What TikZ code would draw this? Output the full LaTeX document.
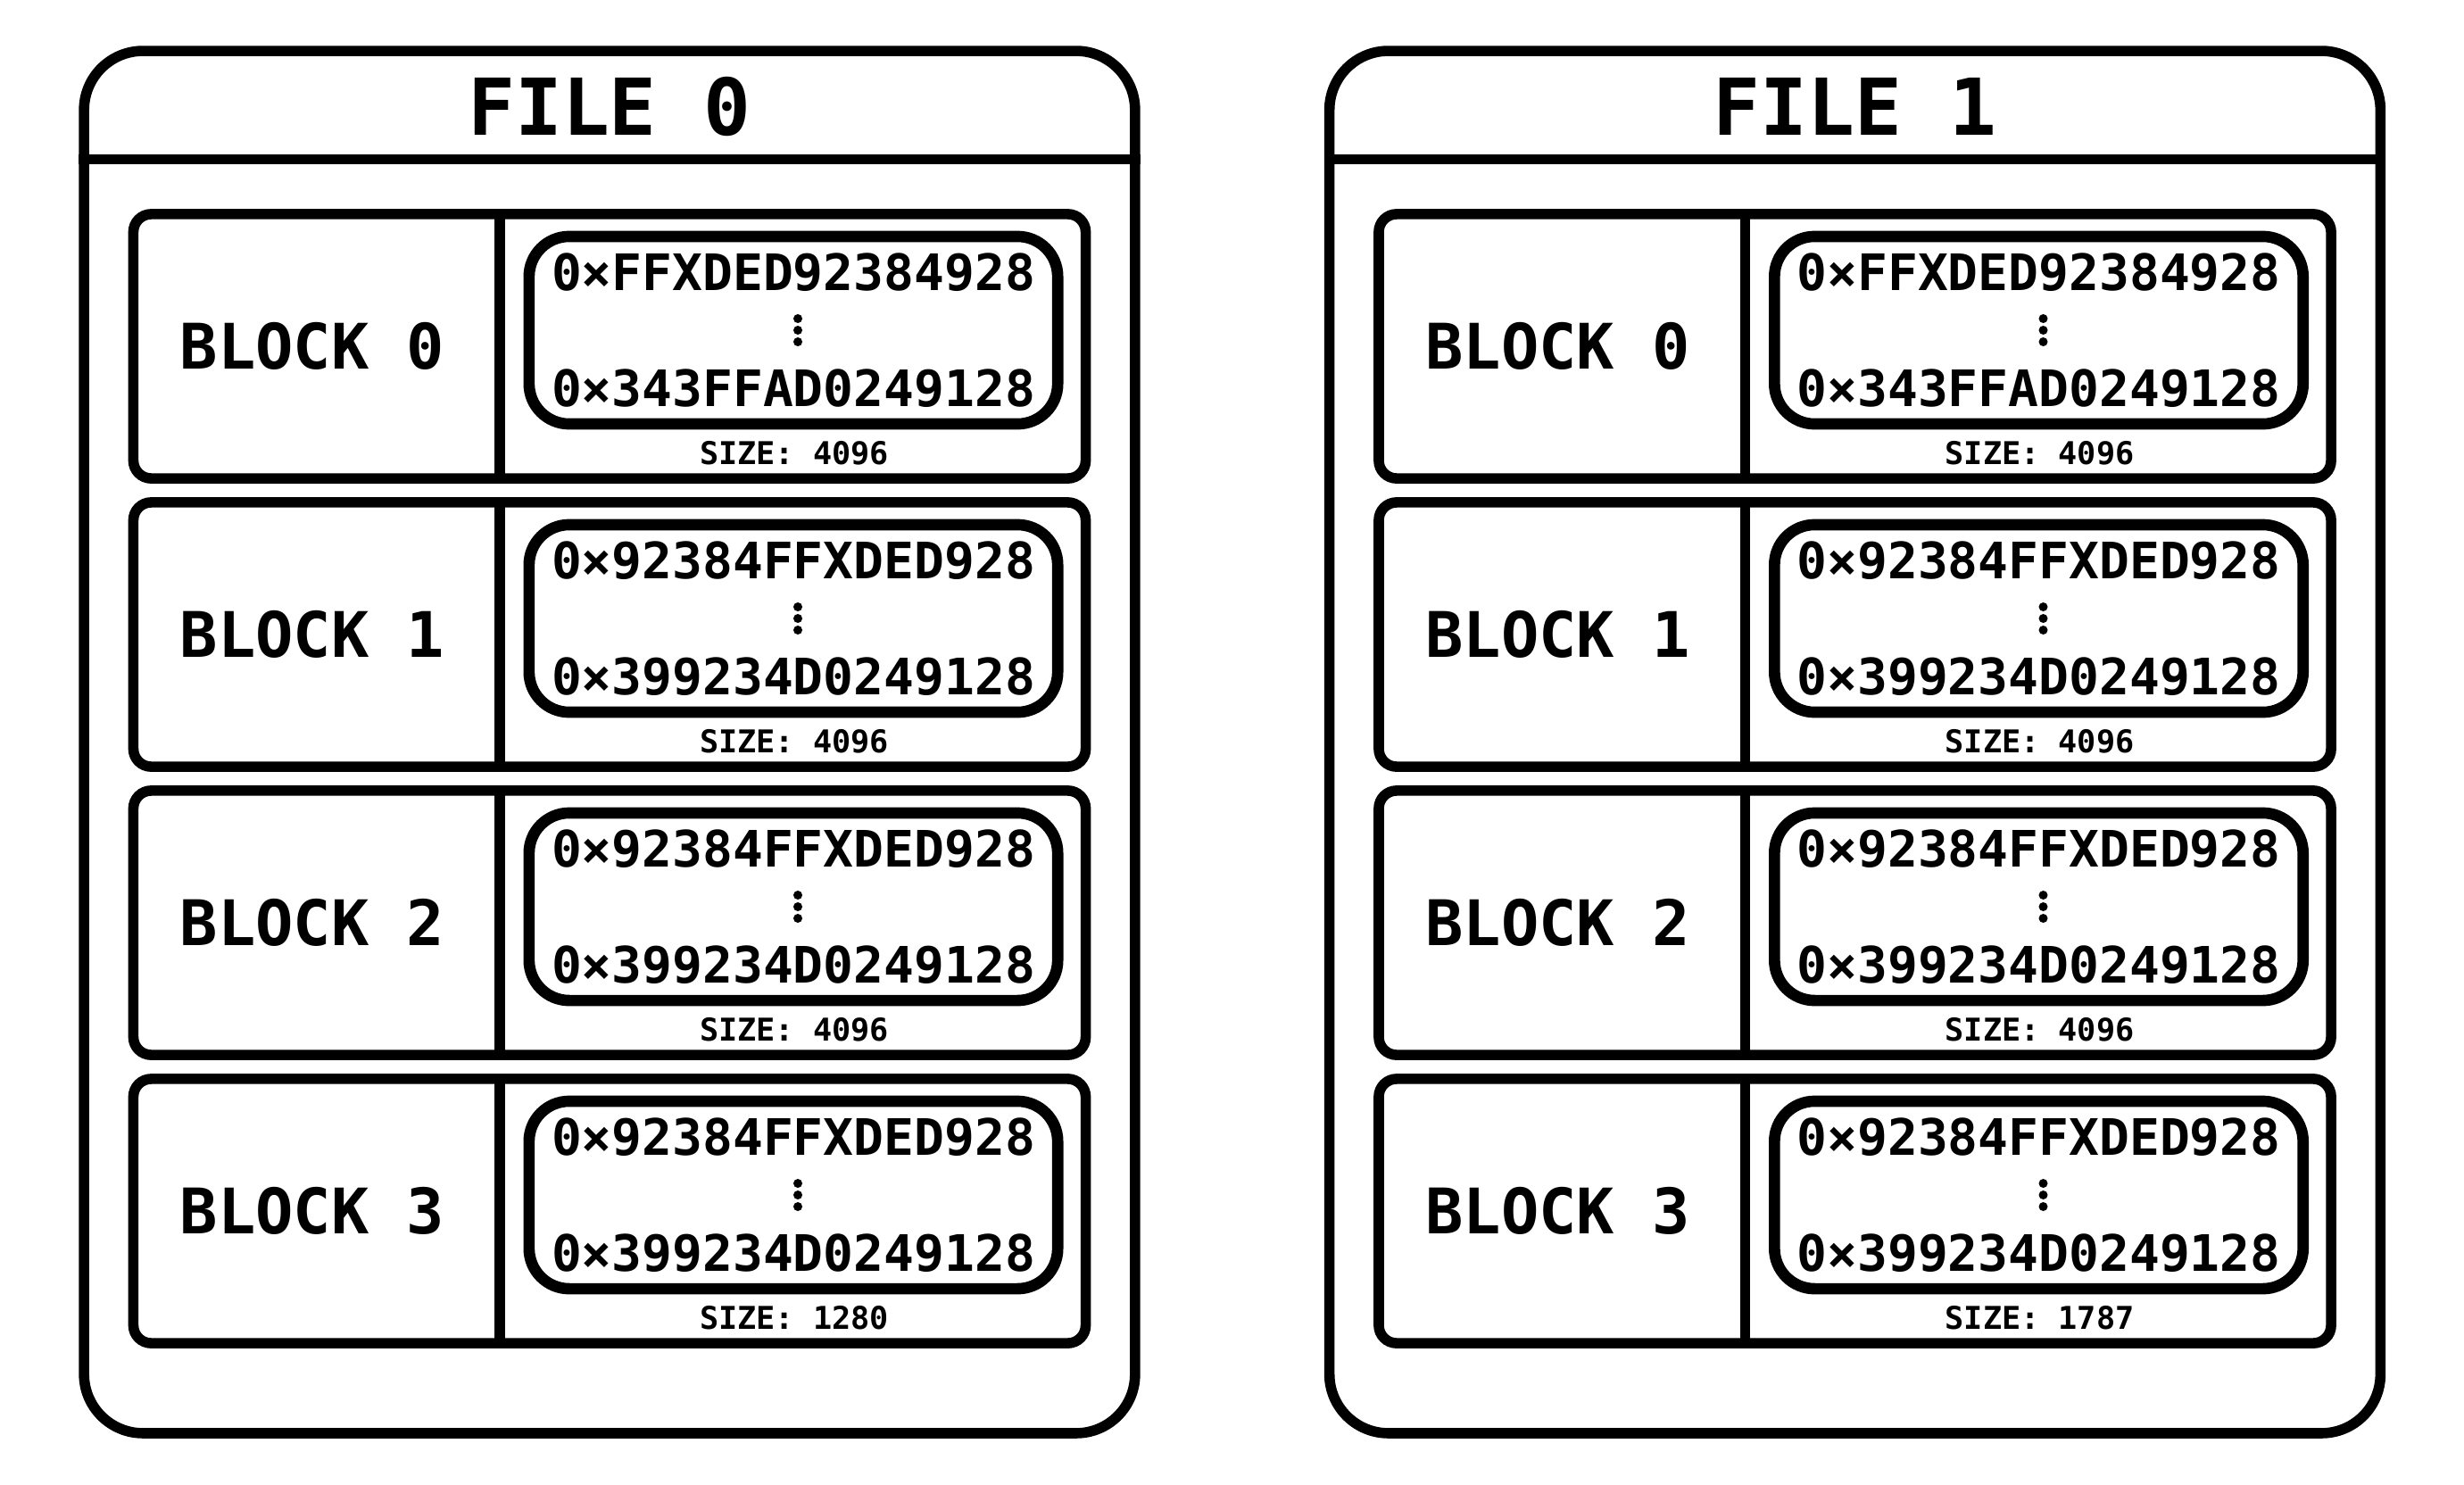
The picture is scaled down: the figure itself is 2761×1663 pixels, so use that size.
\documentclass[tikz,border=0pt]{standalone}
\usepackage{fontspec}
\newfontfamily\monofont{DejaVu Sans Mono}
\usetikzlibrary{positioning}

\tikzset{
  filebox/.style={draw, line width=3.3pt, rounded corners=0.66cm, minimum width=11.77cm, minimum height=15.48cm},
  blockbox/.style={draw, line width=3.3pt, rounded corners=0.2cm, minimum width=10.665cm, minimum height=2.96cm},
  addrbox/.style={draw, line width=3.6pt, rounded corners=0.45cm, minimum width=5.92cm, minimum height=2.10cm,
    align=center, font=\monofont\bfseries\fontsize{16}{18.5}\selectfont},
  titlelabel/.style={font=\monofont\bfseries\fontsize{25}{30}\selectfont},
  blocklabel/.style={font=\monofont\bfseries\fontsize{20}{24}\selectfont},
  sizelabel/.style={font=\monofont\bfseries\fontsize{10}{12}\selectfont},
  divider/.style={line width=3.3pt}
}

\begin{document}
\begin{tikzpicture}[x=0.01cm, y=-0.01cm]

     \useasboundingbox (0,0) rectangle (2761,1663);

     % File 0
     \node[filebox] (file0) at (683,831.5) {};
     \node[titlelabel] (title0) at (683,119.5) {FILE 0};
     \coordinate (h0) at (0,178.5);
     \draw[divider] (file0.west |- h0) -- (file0.east |- h0);
     \coordinate (d0) at (560,0);

     % Bloques del file 0
     \node[blockbox] (b00) at (683,388) {};
     \node[blocklabel] (l00) at (350,388) {BLOCK 0};
     \draw[divider] (b00.north -| d0) -- (b00.south -| d0);
     \node[addrbox] (a00) at (889,370) {0×FFXDED92384928\\\mbox{}\\0×343FFAD0249128};
     \node[sizelabel] (s00) at (890,507.5) {SIZE: 4096};

     \node[blockbox] (b01) at (683,711) {};
     \node[blocklabel] (l01) at (350,711) {BLOCK 1};
     \draw[divider] (b01.north -| d0) -- (b01.south -| d0);
     \node[addrbox] (a01) at (889,693) {0×92384FFXDED928\\\mbox{}\\0×399234D0249128};
     \node[sizelabel] (s01) at (890,830.5) {SIZE: 4096};

     \node[blockbox] (b02) at (683,1034) {};
     \node[blocklabel] (l02) at (350,1034) {BLOCK 2};
     \draw[divider] (b02.north -| d0) -- (b02.south -| d0);
     \node[addrbox] (a02) at (889,1016) {0×92384FFXDED928\\\mbox{}\\0×399234D0249128};
     \node[sizelabel] (s02) at (890,1153.5) {SIZE: 4096};

     \node[blockbox] (b03) at (683,1357) {};
     \node[blocklabel] (l03) at (350,1357) {BLOCK 3};
     \draw[divider] (b03.north -| d0) -- (b03.south -| d0);
     \node[addrbox] (a03) at (889,1339) {0×92384FFXDED928\\\mbox{}\\0×399234D0249128};
     \node[sizelabel] (s03) at (890,1476.5) {SIZE: 1280};

     % File 1
     \node[filebox] (file1) at (2078.5,831.5) {};
     \node[titlelabel] (title1) at (2078.5,119.5) {FILE 1};
     \coordinate (h1) at (0,178.5);
     \draw[divider] (file1.west |- h1) -- (file1.east |- h1);
     \coordinate (d1) at (1955.5,0);

     % Bloques del file 1
     \node[blockbox] (b10) at (2078.5,388) {};
     \node[blocklabel] (l10) at (1745.5,388) {BLOCK 0};
     \draw[divider] (b10.north -| d1) -- (b10.south -| d1);
     \node[addrbox] (a10) at (2284.5,370) {0×FFXDED92384928\\\mbox{}\\0×343FFAD0249128};
     \node[sizelabel] (s10) at (2285.5,507.5) {SIZE: 4096};

     \node[blockbox] (b11) at (2078.5,711) {};
     \node[blocklabel] (l11) at (1745.5,711) {BLOCK 1};
     \draw[divider] (b11.north -| d1) -- (b11.south -| d1);
     \node[addrbox] (a11) at (2284.5,693) {0×92384FFXDED928\\\mbox{}\\0×399234D0249128};
     \node[sizelabel] (s11) at (2285.5,830.5) {SIZE: 4096};

     \node[blockbox] (b12) at (2078.5,1034) {};
     \node[blocklabel] (l12) at (1745.5,1034) {BLOCK 2};
     \draw[divider] (b12.north -| d1) -- (b12.south -| d1);
     \node[addrbox] (a12) at (2284.5,1016) {0×92384FFXDED928\\\mbox{}\\0×399234D0249128};
     \node[sizelabel] (s12) at (2285.5,1153.5) {SIZE: 4096};

     \node[blockbox] (b13) at (2078.5,1357) {};
     \node[blocklabel] (l13) at (1745.5,1357) {BLOCK 3};
     \draw[divider] (b13.north -| d1) -- (b13.south -| d1);
     \node[addrbox] (a13) at (2284.5,1339) {0×92384FFXDED928\\\mbox{}\\0×399234D0249128};
     \node[sizelabel] (s13) at (2285.5,1476.5) {SIZE: 1787};

     % Puntos verticales entre las dos direcciones
     \foreach \a in {a00,a01,a02,a03,a10,a11,a12,a13}
       \foreach \d in {-13,0,13}
         \fill ([shift={(5,\d)}]\a.center) circle (0.05cm);

   \end{tikzpicture}
\end{document}
